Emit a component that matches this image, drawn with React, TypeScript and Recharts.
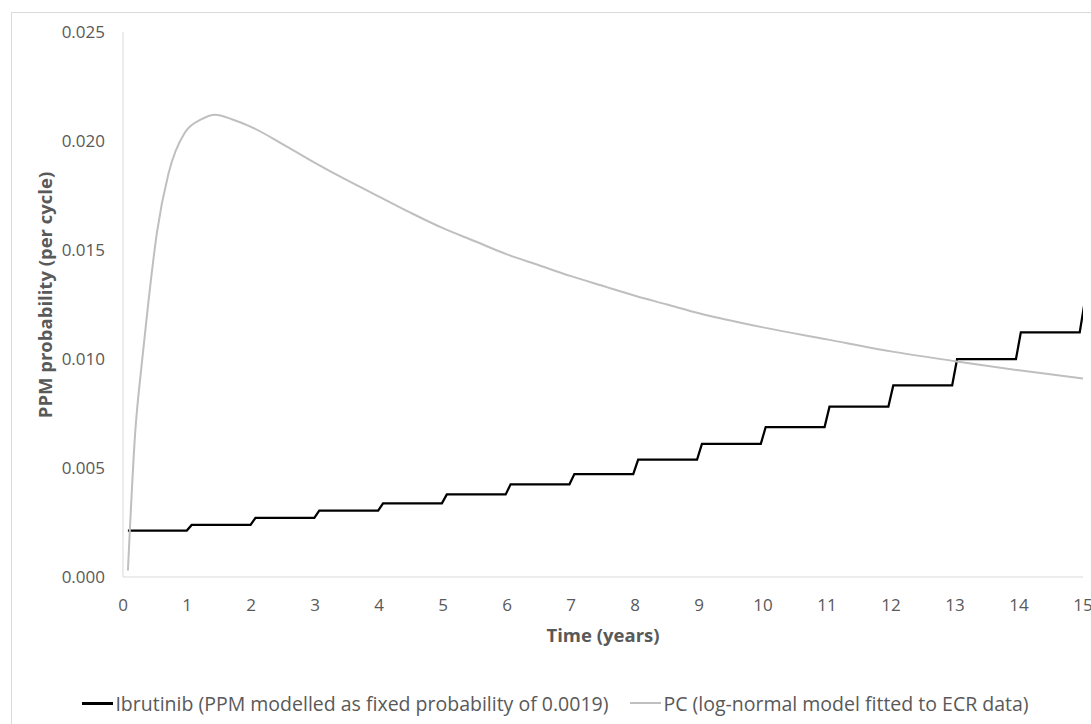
import React from "react";
import { LineChart, Line, XAxis, YAxis, Legend, Label } from "recharts";

// ---- Data ----
const X_TICKS = [0, 1, 2, 3, 4, 5, 6, 7, 8, 9, 10, 11, 12, 13, 14, 15];
const Y_TICKS = [0, 0.005, 0.01, 0.015, 0.02, 0.025];

// Ibrutinib per-cycle probability level for each model year (year 0 .. 15)
const IBRUTINIB_LEVELS = [
  0.00213, 0.00239, 0.00271, 0.00304, 0.00338, 0.00379, 0.00425, 0.00472,
  0.00538, 0.00611, 0.00688, 0.00781, 0.00879, 0.00999, 0.01122, 0.0126,
];
// 28-day model cycles (1 .. 196)
const CYCLE_COUNT = 196;
const CYCLE_LENGTH_YEARS = 28 / 365.25;

// PC (log-normal) curve
const PC_TIMES = [
  0.077, 0.19, 0.29, 0.4, 0.53, 0.71, 0.97, 1.23, 1.44, 1.7, 2.0, 2.5, 3.0,
  3.5, 4.0, 4.5, 5.0, 5.5, 6.0, 6.5, 7.0, 7.5, 8.0, 8.5, 9.0, 10.0, 11.0,
  12.0, 13.0, 14.0, 15.0,
];
const PC_VALUES = [
  0.0003, 0.0066, 0.0097, 0.0127, 0.0158, 0.0185, 0.0204, 0.021, 0.0212,
  0.021, 0.02065, 0.01985, 0.019, 0.0182, 0.01745, 0.0167, 0.016, 0.0154,
  0.0148, 0.0143, 0.0138, 0.01335, 0.0129, 0.0125, 0.0121, 0.01145, 0.0109,
  0.01035, 0.0099, 0.00948, 0.0091,
];

const SERIES_NAMES = [
  "Ibrutinib (PPM modelled as fixed probability of 0.0019)",
  "PC (log-normal model fitted to ECR data)",
];
const SERIES_COLORS = ["#000000", "#bfbfbf"];

const ibrutinibData = Array.from({ length: CYCLE_COUNT }, (_, i) => {
  const t = (i + 1) * CYCLE_LENGTH_YEARS;
  return { t, v: IBRUTINIB_LEVELS[Math.min(Math.floor(t), IBRUTINIB_LEVELS.length - 1)] };
});
const pcData = PC_TIMES.map((t, i) => ({ t, v: PC_VALUES[i] }));

const FONT = "'Open Sans', 'Liberation Sans', sans-serif";
const TEXT_COLOR = "#595959";
const AXIS_COLOR = "#d9d9d9";

const renderLegend = () => (
  <div
    style={{
      display: "flex",
      justifyContent: "center",
      alignItems: "center",
      height: 24,
      paddingLeft: 20,
      fontFamily: FONT,
      fontSize: 19.5,
      color: TEXT_COLOR,
      whiteSpace: "nowrap",
    }}
  >
    {SERIES_NAMES.map((name, i) => (
      <span
        key={name}
        style={{ display: "flex", alignItems: "center", marginRight: i === 0 ? 22 : 0 }}
      >
        <span
          style={{
            display: "inline-block",
            width: 31,
            height: i === 0 ? 3 : 2.5,
            background: SERIES_COLORS[i],
            marginRight: 2,
          }}
        />
        {name}
      </span>
    ))}
  </div>
);

export default function App() {
  return (
    <div
      style={{
        position: "absolute",
        left: 0,
        top: 0,
        width: 1091,
        height: 724,
        overflow: "hidden",
        background: "#ffffff",
      }}
    >
      <div
        style={{
          position: "absolute",
          left: 11,
          top: 12,
          width: 1200,
          height: 900,
          border: `1px solid ${AXIS_COLOR}`,
        }}
      />
      <div style={{ position: "absolute", left: 0, top: 0 }}>
        <LineChart
          width={1091}
          height={724}
          margin={{ top: 32, right: 8, left: 0, bottom: 9 }}
        >
          <XAxis
            type="number"
            dataKey="t"
            domain={[0, 15]}
            ticks={X_TICKS}
            allowDataOverflow
            interval={0}
            height={114}
            tickLine={false}
            tickMargin={16}
            axisLine={{ stroke: AXIS_COLOR, strokeWidth: 1 }}
            tick={{ fill: TEXT_COLOR, fontSize: 17, fontFamily: FONT }}
          >
            <Label
              content={(props: any) => {
                const vb = props.viewBox || {};
                return (
                  <text
                    x={vb.x + vb.width / 2}
                    y={634}
                    textAnchor="middle"
                    dominantBaseline="central"
                    fill={TEXT_COLOR}
                    fontFamily={FONT}
                    fontSize={18.5}
                    fontWeight="bold"
                  >
                    Time (years)
                  </text>
                );
              }}
            />
          </XAxis>
          <YAxis
            type="number"
            domain={[0, 0.025]}
            ticks={Y_TICKS}
            interval={0}
            width={123}
            tickLine={false}
            tickMargin={12}
            tickFormatter={(v: number) => v.toFixed(3)}
            axisLine={{ stroke: AXIS_COLOR, strokeWidth: 1 }}
            tick={{ fill: TEXT_COLOR, fontSize: 17, fontFamily: FONT }}
          >
            <Label
              content={() => (
                <text
                  x={44}
                  y={295}
                  transform="rotate(-90 44 295)"
                  textAnchor="middle"
                  dominantBaseline="central"
                  fill={TEXT_COLOR}
                  fontFamily={FONT}
                  fontSize={18.5}
                  fontWeight="bold"
                >
                  PPM probability (per cycle)
                </text>
              )}
            />
          </YAxis>
          <Legend verticalAlign="bottom" content={renderLegend} wrapperStyle={{ left: 0, width: 1091 }} />
          <Line
            data={ibrutinibData}
            dataKey="v"
            name={SERIES_NAMES[0]}
            type="linear"
            stroke={SERIES_COLORS[0]}
            strokeWidth={2.25}
            dot={false}
            activeDot={false}
            isAnimationActive={false}
          />
          <Line
            data={pcData}
            dataKey="v"
            name={SERIES_NAMES[1]}
            type="monotone"
            stroke={SERIES_COLORS[1]}
            strokeWidth={2}
            dot={false}
            activeDot={false}
            isAnimationActive={false}
          />
        </LineChart>
      </div>
    </div>
  );
}
